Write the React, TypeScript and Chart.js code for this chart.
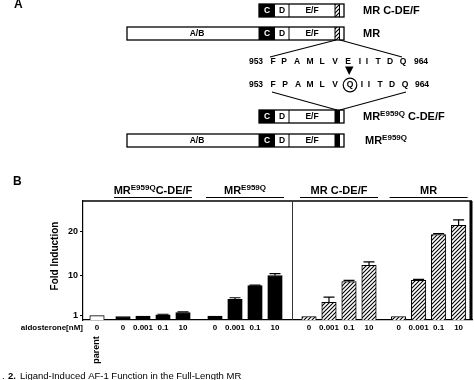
import React, { useEffect, useRef } from "react";
import { Chart, registerables } from "chart.js";

Chart.register(...registerables);

// ---------- data ----------
const doses = ["0", "0.001", "0.1", "10"];
const yTicks = [1, 10, 20];
const parentValues = [1.0];
const parentErrors = [0];
const mutCDEFValues = [0.8, 0.9, 1.2, 1.7];
const mutCDEFErrors = [0, 0, 0.1, 0.15];
const mutMRValues = [0.9, 4.7, 7.8, 10.1];
const mutMRErrors = [0, 0.35, 0.1, 0.4];
const wtCDEFValues = [0.8, 4.0, 8.7, 12.4];
const wtCDEFErrors = [0, 1.2, 0.3, 0.8];
const wtMRValues = [0.8, 9.0, 19.4, 21.5];
const wtMRErrors = [0, 0.2, 0.2, 1.2];

// ---------- layout (x in slot units) ----------
const groupStarts = [0.7, 2.0, 6.6, 11.3, 15.78];
const separatorAt = 10.45;
const xMax = 19.45;
const yMax = 27;

const FONT = '"Liberation Sans", Arial, Helvetica, sans-serif';

function makeHatch(): CanvasPattern | string {
  const c = document.createElement("canvas");
  c.width = 4;
  c.height = 4;
  const g = c.getContext("2d");
  if (!g) return "#888";
  g.fillStyle = "#fff";
  g.fillRect(0, 0, 4, 4);
  g.strokeStyle = "#000";
  g.lineWidth = 1.1;
  g.beginPath();
  g.moveTo(0, 4);
  g.lineTo(4, 0);
  g.moveTo(-1, 1);
  g.lineTo(1, -1);
  g.moveTo(3, 5);
  g.lineTo(5, 3);
  g.stroke();
  return g.createPattern(c, "repeat") || "#888";
}

type Part = [string, boolean?];
function richWidth(ctx: CanvasRenderingContext2D, parts: Part[], size: number, supSize: number) {
  let w = 0;
  for (const [t, sup] of parts) {
    ctx.font = `bold ${sup ? supSize : size}px ${FONT}`;
    w += ctx.measureText(t).width;
  }
  return w;
}
function drawRich(
  ctx: CanvasRenderingContext2D,
  parts: Part[],
  x: number,
  y: number,
  size: number,
  supSize: number,
  align: "left" | "center"
) {
  const w = richWidth(ctx, parts, size, supSize);
  let cx = align === "center" ? x - w / 2 : x;
  ctx.textAlign = "left";
  ctx.textBaseline = "middle";
  for (const [t, sup] of parts) {
    ctx.font = `bold ${sup ? supSize : size}px ${FONT}`;
    ctx.fillText(t, cx, sup ? y - 3 : y);
    cx += ctx.measureText(t).width;
  }
}

function drawDomain(
  ctx: CanvasRenderingContext2D,
  x0: number,
  y: number,
  h: number,
  special: "hatch" | "black",
  hatch: CanvasPattern | string
) {
  const xC = 259, xD = 275, xE = 289, xS = 335, xW = 339.5, xEnd = 344;
  ctx.save();
  ctx.fillStyle = "#fff";
  ctx.fillRect(x0, y, xEnd - x0, h);
  ctx.fillStyle = "#000";
  ctx.fillRect(xC, y, xD - xC, h);
  if (special === "black") {
    ctx.fillStyle = "#000";
  } else {
    ctx.fillStyle = hatch as any;
  }
  ctx.fillRect(xS, y, xW - xS, h);
  ctx.strokeStyle = "#000";
  ctx.lineWidth = 1.3;
  ctx.strokeRect(x0, y, xEnd - x0, h);
  ctx.lineWidth = 1;
  ctx.beginPath();
  for (const xx of [xE, xS, xW]) {
    ctx.moveTo(xx, y);
    ctx.lineTo(xx, y + h);
  }
  ctx.stroke();
  ctx.textAlign = "center";
  ctx.textBaseline = "middle";
  ctx.font = `bold 8.5px ${FONT}`;
  ctx.fillStyle = "#fff";
  ctx.fillText("C", (xC + xD) / 2, y + h / 2 + 0.5);
  ctx.fillStyle = "#000";
  ctx.fillText("D", (xD + xE) / 2, y + h / 2 + 0.5);
  ctx.fillText("E/F", (xE + xS) / 2, y + h / 2 + 0.5);
  if (x0 < xC) {
    ctx.beginPath();
    ctx.moveTo(xC, y);
    ctx.lineTo(xC, y + h);
    ctx.stroke();
    ctx.fillText("A/B", 197, y + h / 2 + 0.5);
  }
  ctx.restore();
}

function drawSeq(ctx: CanvasRenderingContext2D, y: number, letters: [string, number][]) {
  ctx.font = `bold 8.5px ${FONT}`;
  ctx.textAlign = "center";
  ctx.textBaseline = "middle";
  ctx.fillStyle = "#000";
  for (const [t, x] of letters) ctx.fillText(t, x, y);
}

export default function App() {
  const ref = useRef<HTMLCanvasElement | null>(null);

  useEffect(() => {
    if (!ref.current) return;
    const hatch = makeHatch();

    const groupValues = [parentValues, mutCDEFValues, mutMRValues, wtCDEFValues, wtMRValues];
    const groupErrors = [parentErrors, mutCDEFErrors, mutMRErrors, wtCDEFErrors, wtMRErrors];
    const fills: any[] = ["#fff", "#000", "#000", hatch, hatch];

    const tickPositions: number[] = [];
    const tickLabels: string[] = [];
    groupValues.forEach((vals, g) => {
      vals.forEach((_, i) => {
        tickPositions.push(groupStarts[g] + i);
        tickLabels.push(g === 0 ? "0" : doses[i]);
      });
    });

    const datasets: any[] = groupValues.map((vals, g) => ({
      label: "g" + g,
      data: vals.map((v, i) => ({ x: groupStarts[g] + i, y: v })),
      errors: groupErrors[g],
      backgroundColor: fills[g],
      borderColor: "#000",
      borderWidth: 1,
      barThickness: 14.5,
      grouped: false,
    }));

    const errorBars = {
      id: "errorBars",
      afterDatasetsDraw(chart: any) {
        const ctx = chart.ctx;
        const ys = chart.scales.y;
        ctx.save();
        ctx.strokeStyle = "#000";
        ctx.lineWidth = 1.2;
        chart.data.datasets.forEach((ds: any, di: number) => {
          const meta = chart.getDatasetMeta(di);
          meta.data.forEach((el: any, i: number) => {
            const err = ds.errors[i];
            if (!err) return;
            const v = ds.data[i].y;
            const yTop = ys.getPixelForValue(v + err);
            ctx.beginPath();
            ctx.moveTo(el.x, el.y);
            ctx.lineTo(el.x, yTop);
            ctx.moveTo(el.x - 5.5, yTop);
            ctx.lineTo(el.x + 5.5, yTop);
            ctx.stroke();
          });
        });
        ctx.restore();
      },
    };

    const frame = {
      id: "frame",
      afterDraw(chart: any) {
        const ctx: CanvasRenderingContext2D = chart.ctx;
        const a = chart.chartArea;
        const xs = chart.scales.x;
        ctx.save();
        ctx.strokeStyle = "#000";
        // top border
        ctx.lineWidth = 1.5;
        ctx.beginPath();
        ctx.moveTo(a.left, a.top);
        ctx.lineTo(a.right, a.top);
        ctx.stroke();
        // right thick border
        ctx.lineWidth = 3;
        ctx.beginPath();
        ctx.moveTo(a.right - 1, a.top);
        ctx.lineTo(a.right - 1, a.bottom);
        ctx.stroke();
        // divider
        ctx.lineWidth = 1;
        ctx.strokeStyle = "#333";
        const dx = Math.round(xs.getPixelForValue(separatorAt)) + 0.5;
        ctx.beginPath();
        ctx.moveTo(dx, a.top);
        ctx.lineTo(dx, a.bottom);
        ctx.stroke();

        ctx.fillStyle = "#000";
        ctx.strokeStyle = "#000";
        // group headers
        const headers: Part[][] = [
          [["MR"], ["E959Q", true], ["C-DE/F"]],
          [["MR"], ["E959Q", true]],
          [["MR C-DE/F"]],
          [["MR"]],
        ];
        headers.forEach((parts, k) => {
          const g = k + 1;
          const cx = xs.getPixelForValue(groupStarts[g] + 1.5);
          drawRich(ctx, parts, cx, 190.5, 11, 8, "center");
          ctx.lineWidth = 1.2;
          ctx.beginPath();
          ctx.moveTo(cx - 39, 197.5);
          ctx.lineTo(cx + 39, 197.5);
          ctx.stroke();
        });

        // panel letters
        ctx.font = `bold 12px ${FONT}`;
        ctx.textAlign = "left";
        ctx.textBaseline = "middle";
        ctx.fillText("B", 13, 182);
        ctx.fillText("A", 14, 5);

        // y title
        ctx.save();
        ctx.translate(55, 256);
        ctx.rotate(-Math.PI / 2);
        ctx.font = `bold 10px ${FONT}`;
        ctx.textAlign = "center";
        ctx.textBaseline = "middle";
        ctx.fillText("Fold Induction", 0, 0);
        ctx.restore();

        // aldosterone label
        ctx.font = `bold 8px ${FONT}`;
        ctx.textAlign = "right";
        ctx.textBaseline = "middle";
        ctx.fillText("aldosterone[nM]", 83, 327.5);

        // parent label
        ctx.save();
        ctx.translate(xs.getPixelForValue(groupStarts[0]), 350);
        ctx.rotate(-Math.PI / 2);
        ctx.font = `bold 9px ${FONT}`;
        ctx.textAlign = "center";
        ctx.textBaseline = "middle";
        ctx.fillText("parent", 0, 0);
        ctx.restore();

        // caption
        ctx.textAlign = "left";
        ctx.textBaseline = "alphabetic";
        ctx.font = `9.5px ${FONT}`;
        ctx.fillText(".", 2, 379);
        ctx.font = `bold 9.5px ${FONT}`;
        ctx.fillText("2.", 8, 379);
        ctx.font = `9.5px ${FONT}`;
        ctx.fillText("Ligand-Induced AF-1 Function in the Full-Length MR", 20, 379);

        // ---------- panel A ----------
        drawDomain(ctx, 259, 4, 13, "hatch", hatch);
        drawDomain(ctx, 127, 27, 13, "hatch", hatch);
        drawDomain(ctx, 259, 110, 13, "black", hatch);
        drawDomain(ctx, 127, 134, 13, "black", hatch);

        ctx.fillStyle = "#000";
        drawRich(ctx, [["MR C-DE/F"]], 363, 11, 11, 8, "left");
        drawRich(ctx, [["MR"]], 363, 33.5, 11, 8, "left");
        drawRich(ctx, [["MR"], ["E959Q", true], [" C-DE/F"]], 363, 117, 11, 8, "left");
        drawRich(ctx, [["MR"], ["E959Q", true]], 365, 140.5, 11, 8, "left");

        // connector lines
        ctx.strokeStyle = "#000";
        ctx.lineWidth = 1.1;
        ctx.beginPath();
        ctx.moveTo(336, 40);
        ctx.lineTo(270, 57);
        ctx.moveTo(340, 40);
        ctx.lineTo(402, 57);
        ctx.moveTo(272, 92);
        ctx.lineTo(337, 110);
        ctx.moveTo(406, 92);
        ctx.lineTo(340, 110);
        ctx.stroke();

        drawSeq(ctx, 62, [
          ["953", 256], ["F", 273], ["P", 284], ["A", 297], ["M", 310], ["L", 322],
          ["V", 335], ["E", 348], ["I", 360], ["I", 367], ["T", 378], ["D", 390],
          ["Q", 403], ["964", 421],
        ]);
        drawSeq(ctx, 85, [
          ["953", 256], ["F", 273], ["P", 285], ["A", 298], ["M", 310], ["L", 322],
          ["V", 335], ["Q", 350], ["I", 362], ["I", 369], ["T", 380], ["D", 392],
          ["Q", 405], ["964", 422],
        ]);
        // circle around mutant Q
        ctx.lineWidth = 1.2;
        ctx.beginPath();
        ctx.arc(350, 85, 6.8, 0, Math.PI * 2);
        ctx.stroke();
        // arrowhead
        ctx.beginPath();
        ctx.moveTo(345, 66.5);
        ctx.lineTo(353.5, 66.5);
        ctx.lineTo(349.2, 75);
        ctx.closePath();
        ctx.fill();

        ctx.restore();
      },
    };

    const chart = new Chart(ref.current, {
      type: "bar",
      data: { datasets },
      plugins: [errorBars, frame],
      options: {
        animation: false,
        responsive: false,
        layout: { padding: { top: 201, right: 2, left: 0, bottom: 0 } },
        plugins: { legend: { display: false }, tooltip: { enabled: false } },
        scales: {
          x: {
            type: "linear",
            min: 0,
            max: xMax,
            offset: false,
            grid: { display: false, drawTicks: false },
            border: { display: true, color: "#000", width: 1.2 },
            afterBuildTicks: (scale: any) => {
              scale.ticks = tickPositions.map((v) => ({ value: v }));
            },
            afterFit: (scale: any) => {
              scale.height = 60;
            },
            ticks: {
              autoSkip: false,
              maxRotation: 0,
              padding: 3,
              color: "#000",
              font: { family: FONT, size: 8, weight: "bold" },
              callback: (_v: any, i: number) => tickLabels[i],
            },
          },
          y: {
            min: 0,
            max: yMax,
            grid: { drawOnChartArea: false, drawTicks: true, tickLength: 3, color: "#000" },
            border: { display: true, color: "#000", width: 1.2 },
            afterBuildTicks: (scale: any) => {
              scale.ticks = yTicks.map((v) => ({ value: v }));
            },
            afterFit: (scale: any) => {
              scale.width = 83;
            },
            ticks: {
              padding: 2,
              color: "#000",
              font: { family: FONT, size: 9, weight: "bold" },
            },
          },
        },
      } as any,
    });
    return () => chart.destroy();
  }, []);

  return (
    <div style={{ position: "absolute", left: 0, top: 0, width: 474, height: 380, background: "#fff" }}>
      <canvas ref={ref} width={474} height={380} style={{ display: "block" }} />
    </div>
  );
}
